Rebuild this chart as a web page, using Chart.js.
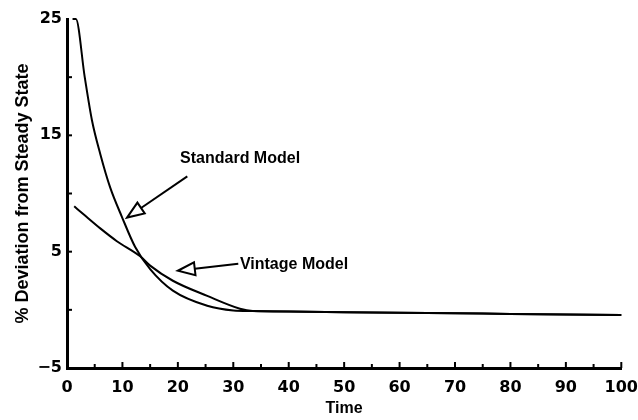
<!DOCTYPE html>
<html>
<head>
<meta charset="utf-8">
<script src="https://cdn.jsdelivr.net/npm/chart.js@4"></script>
<style>
  html, body { margin: 0; padding: 0; background: #fff; }
  #wrap { width: 638px; height: 420px; }
</style>
</head>
<body>
<div id="wrap"><canvas id="chart" width="638" height="420"></canvas></div>
<script>
// ===== Data =====
const standardX = [1, 1.6, 3.2, 4.5, 6, 7.8, 9.9, 12.3, 15, 19.1, 25.3, 30, 33.5, 40, 50, 60, 70, 80, 90, 100];
const standardY = [25, 25, 20.0, 16.3, 13.4, 10.5, 8.0, 5.4, 3.5, 1.65, 0.35, -0.05, -0.1, -0.15, -0.2, -0.25, -0.3, -0.35, -0.4, -0.45];

const vintageX = [1.3, 3.25, 6, 9, 13.2, 15, 19.1, 25.3, 31.2, 33.5, 40, 50, 60, 70, 80, 90, 100];
const vintageY = [8.9, 8.1, 7.0, 5.9, 4.6, 3.8, 2.5, 1.2, 0.1, -0.1, -0.15, -0.2, -0.25, -0.3, -0.35, -0.4, -0.45];

const yLabels = [-5, 5, 15, 25];

const toPoints = (xs, ys) => xs.map((x, i) => ({ x, y: ys[i] }));

// ===== Annotations: label + open arrow, in data units =====
const notes = [
  { text: 'Standard Model', tx: 20.4, ty: 12.6, from: [21.7, 11.47], to: [10.83, 7.93] },
  { text: 'Vintage Model', tx: 31.2, ty: 3.53, from: [30.9, 3.97], to: [20.0, 3.36] },
];

const FONT = '"Liberation Sans", Arial, sans-serif';
const TICK_FONT = '"DejaVu Sans", sans-serif';

const decorPlugin = {
  id: 'decor',
  afterDraw(chart) {
    const { ctx, scales: { x, y } } = chart;
    ctx.save();
    ctx.strokeStyle = '#000';
    ctx.fillStyle = '#000';

    // inward tick marks
    ctx.lineWidth = 2;
    const bottom = y.getPixelForValue(-5);
    for (let v = 5; v <= 100; v += 5) {
      const px = x.getPixelForValue(v);
      const len = v % 10 === 0 ? 6 : 4;
      ctx.beginPath();
      ctx.moveTo(px, bottom);
      ctx.lineTo(px, bottom - len);
      ctx.stroke();
    }
    const left = x.getPixelForValue(0);
    for (let v = 0; v <= 20; v += 5) {
      const py = y.getPixelForValue(v);
      ctx.beginPath();
      ctx.moveTo(left, py);
      ctx.lineTo(left + 5, py);
      ctx.stroke();
    }

    // annotation labels and arrows
    ctx.font = 'bold 16px ' + FONT;
    ctx.textBaseline = 'alphabetic';
    notes.forEach(n => {
      ctx.fillText(n.text, x.getPixelForValue(n.tx), y.getPixelForValue(n.ty));

      const x0 = x.getPixelForValue(n.from[0]), y0 = y.getPixelForValue(n.from[1]);
      const x1 = x.getPixelForValue(n.to[0]), y1 = y.getPixelForValue(n.to[1]);
      const ang = Math.atan2(y1 - y0, x1 - x0);
      const headLen = 17, headW = 6.5;
      const bx = x1 - Math.cos(ang) * headLen, by = y1 - Math.sin(ang) * headLen;
      const nx = -Math.sin(ang) * headW, ny = Math.cos(ang) * headW;

      ctx.lineWidth = 2;
      ctx.beginPath();
      ctx.moveTo(x0, y0);
      ctx.lineTo(bx, by);
      ctx.stroke();

      ctx.beginPath();
      ctx.moveTo(x1, y1);
      ctx.lineTo(bx + nx, by + ny);
      ctx.lineTo(bx - nx, by - ny);
      ctx.closePath();
      ctx.fillStyle = '#fff';
      ctx.fill();
      ctx.stroke();
      ctx.fillStyle = '#000';
    });
    ctx.restore();
  }
};

new Chart(document.getElementById('chart'), {
  type: 'line',
  data: {
    datasets: [
      {
        label: 'Standard Model',
        data: toPoints(standardX, standardY),
        borderColor: '#000',
        borderWidth: 2,
        pointRadius: 0,
        cubicInterpolationMode: 'monotone',
        fill: false,
        clip: 6,
      },
      {
        label: 'Vintage Model',
        data: toPoints(vintageX, vintageY),
        borderColor: '#000',
        borderWidth: 2,
        pointRadius: 0,
        cubicInterpolationMode: 'monotone',
        fill: false,
        clip: 6,
      },
    ]
  },
  options: {
    responsive: false,
    animation: false,
    layout: { padding: { top: 19, right: 0, left: 0, bottom: 0 } },
    plugins: {
      legend: { display: false },
      tooltip: { enabled: false },
    },
    scales: {
      x: {
        type: 'linear',
        min: 0,
        max: 100,
        // ticks are drawn inward by the plugin; tickLength only spaces the labels
        grid: { display: false, drawTicks: true, tickLength: 10 },
        border: { display: true, width: 3, color: '#000' },
        ticks: {
          stepSize: 10,
          padding: 0,
          color: '#000',
          maxRotation: 0,
          font: { family: TICK_FONT, size: 16, weight: 'bold' },
        },
        title: {
          display: true,
          text: 'Time',
          color: '#000',
          padding: { top: 0, bottom: 2 },
          font: { family: FONT, size: 16, weight: 'bold' },
        },
        afterFit(scale) { scale.height = 52; },
      },
      y: {
        min: -5,
        max: 25,
        grid: { display: false, drawTicks: false },
        border: { display: true, width: 3, color: '#000' },
        ticks: {
          stepSize: 5,
          padding: 5,
          color: '#000',
          font: { family: TICK_FONT, size: 16, weight: 'bold' },
          callback: v => yLabels.includes(v) ? String(v).replace('-', '\u2212') : '',
        },
        title: {
          display: true,
          text: '% Deviation from Steady State',
          color: '#000',
          padding: { top: 12, bottom: 0 },
          font: { family: FONT, size: 18, weight: 'bold' },
        },
        afterFit(scale) { scale.width = 67; },
      }
    }
  },
  plugins: [decorPlugin]
});
</script>
</body>
</html>
